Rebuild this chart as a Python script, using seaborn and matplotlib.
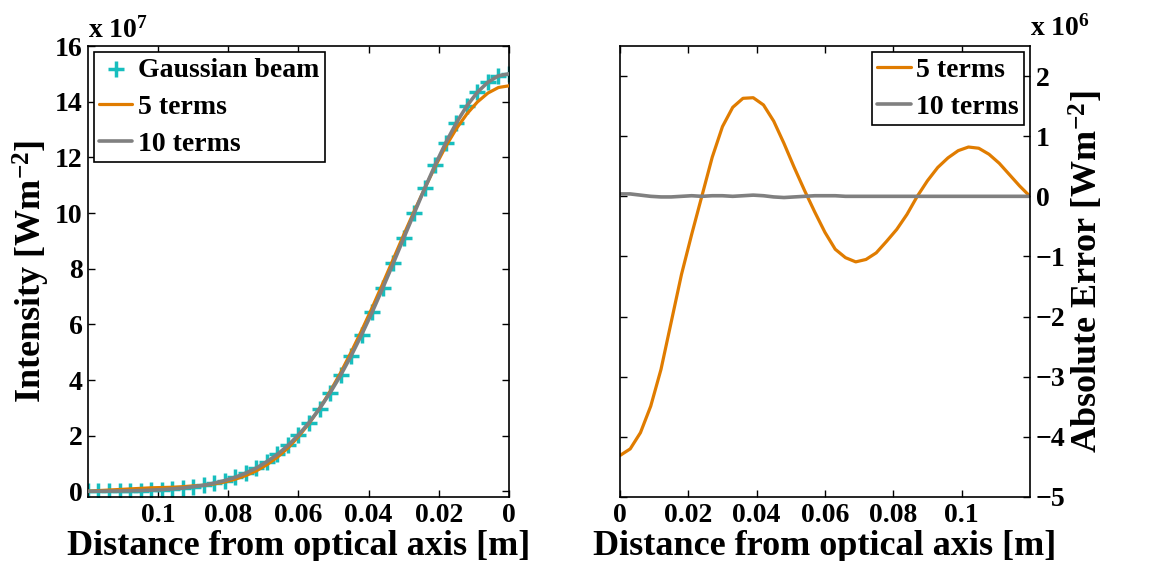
import matplotlib
matplotlib.use("Agg")
import matplotlib.pyplot as plt
import pandas as pd
import seaborn as sns

# distance from optical axis [m]
r = [0.000, 0.003, 0.006, 0.009, 0.012, 0.015, 0.018, 0.021, 0.024, 0.027,
     0.030, 0.033, 0.036, 0.039, 0.042, 0.045, 0.048, 0.051, 0.054, 0.057,
     0.060, 0.063, 0.066, 0.069, 0.072, 0.075, 0.078, 0.081, 0.084, 0.087,
     0.090, 0.093, 0.096, 0.099, 0.102, 0.105, 0.108, 0.111, 0.114, 0.117,
     0.120]

# intensity, units of 1e7 W m^-2
gaussian = [15.00, 14.93, 14.70, 14.34, 13.85, 13.24, 12.53, 11.74, 10.89, 10.00,
            9.10, 8.19, 7.30, 6.44, 5.63, 4.87, 4.17, 3.54, 2.97, 2.47,
            2.03, 1.65, 1.33, 1.07, 0.84, 0.66, 0.51, 0.39, 0.30, 0.22,
            0.17, 0.12, 0.09, 0.065, 0.046, 0.033, 0.023, 0.016, 0.011, 0.008,
            0.005]
terms5 = [14.57, 14.51, 14.31, 13.99, 13.56, 13.03, 12.40, 11.68, 10.89, 10.07,
          9.22, 8.34, 7.46, 6.60, 5.78, 5.00, 4.26, 3.59, 2.98, 2.44,
          1.97, 1.56, 1.23, 0.96, 0.74, 0.57, 0.44, 0.34, 0.27, 0.22,
          0.20, 0.17, 0.15, 0.14, 0.13, 0.11, 0.09, 0.07, 0.05, 0.03,
          0.005]
terms10 = [15.00, 14.93, 14.70, 14.34, 13.85, 13.24, 12.53, 11.74, 10.89, 10.00,
           9.10, 8.19, 7.30, 6.44, 5.63, 4.87, 4.17, 3.54, 2.97, 2.47,
           2.03, 1.65, 1.33, 1.07, 0.84, 0.66, 0.51, 0.39, 0.30, 0.22,
           0.17, 0.12, 0.09, 0.065, 0.046, 0.033, 0.023, 0.016, 0.011, 0.008,
           0.005]

# absolute error, units of 1e6 W m^-2
err5 = [-4.31, -4.20, -3.93, -3.49, -2.88, -2.09, -1.30, -0.63, 0.01, 0.65,
        1.16, 1.48, 1.63, 1.64, 1.52, 1.25, 0.88, 0.48, 0.10, -0.26,
        -0.60, -0.88, -1.02, -1.09, -1.05, -0.94, -0.75, -0.55, -0.30, 0.00,
        0.26, 0.48, 0.64, 0.76, 0.82, 0.80, 0.70, 0.55, 0.36, 0.17,
        0.00]
err10 = [0.04, 0.04, 0.02, 0.00, -0.01, -0.01, 0.00, 0.01, 0.00, 0.01,
         0.01, 0.00, 0.01, 0.02, 0.01, -0.01, -0.02, -0.01, 0.00, 0.01,
         0.01, 0.01, 0.00, 0.00, 0.00, 0.00, 0.00, 0.00, 0.00, 0.00,
         0.00, 0.00, 0.00, 0.00, 0.00, 0.00, 0.00, 0.00, 0.00, 0.00,
         0.00]

left_xticks = [0.1, 0.08, 0.06, 0.04, 0.02, 0]
left_xlabels = ["0.1", "0.08", "0.06", "0.04", "0.02", "0"]
left_yticks = [0, 2, 4, 6, 8, 10, 12, 14, 16]
right_xticks = [0, 0.02, 0.04, 0.06, 0.08, 0.1]
right_xlabels = ["0", "0.02", "0.04", "0.06", "0.08", "0.1"]
right_yticks = [2, 1, 0, -1, -2, -3, -4, -5]

cyan = "#17BEBE"
orange = "#E07C00"
gray = "#808080"

sns.set_style("ticks")
plt.rcParams["font.family"] = ["Liberation Serif", "DejaVu Serif"]
plt.rcParams["font.weight"] = "bold"
plt.rcParams["mathtext.fontset"] = "custom"
plt.rcParams["mathtext.rm"] = "Liberation Serif:bold"
plt.rcParams["mathtext.bf"] = "Liberation Serif:bold"
plt.rcParams["mathtext.default"] = "bf"
plt.rcParams["axes.unicode_minus"] = True
for key in ("text.color", "axes.labelcolor", "xtick.color", "ytick.color",
            "axes.edgecolor"):
    plt.rcParams[key] = "black"

df = pd.DataFrame({"r": r, "gauss": gaussian, "t5": terms5, "t10": terms10,
                   "e5": err5, "e10": err10})

fig = plt.figure(figsize=(11.56, 5.61), dpi=100)
ax1 = fig.add_axes([0.0761, 0.1141, 0.3642, 0.8039])
ax2 = fig.add_axes([0.5363, 0.1141, 0.3547, 0.8039])

tick_fs = 20
label_fs = 26
leg_fs = 20

# left panel
sns.scatterplot(data=df, x="r", y="gauss", ax=ax1, marker="+", s=120,
                linewidth=2.5, color=cyan, label="Gaussian beam", zorder=2)
sns.lineplot(data=df, x="r", y="t5", ax=ax1, color=orange, lw=2.3,
             label="5 terms", zorder=3)
sns.lineplot(data=df, x="r", y="t10", ax=ax1, color=gray, lw=2.6,
             label="10 terms", zorder=4)
ax1.set_xlim(0.12, 0)
ax1.set_ylim(-0.2, 16)
ax1.set_xticks(left_xticks)
ax1.set_xticklabels(left_xlabels)
ax1.set_yticks(left_yticks)
ax1.set_xlabel("Distance from optical axis [m]", fontsize=label_fs,
               fontweight="bold", labelpad=2)
ax1.set_ylabel("Intensity [Wm$^{-2}$]", fontsize=label_fs,
               fontweight="bold", labelpad=2)
ax1.text(0.0, 1.005, "x 10$^{7}$", transform=ax1.transAxes, fontsize=tick_fs,
         fontweight="bold", ha="left", va="bottom")
leg1 = ax1.legend(loc="upper left", fontsize=leg_fs, frameon=True, fancybox=False,
                  borderaxespad=0.2, handlelength=1.2, handletextpad=0.2,
                  borderpad=0.2, labelspacing=0.42)

# right panel
sns.lineplot(data=df, x="r", y="e5", ax=ax2, color=orange, lw=2.3,
             label="5 terms")
sns.lineplot(data=df, x="r", y="e10", ax=ax2, color=gray, lw=2.6,
             label="10 terms")
ax2.set_xlim(0, 0.12)
ax2.set_ylim(-5, 2.5)
ax2.set_xticks(right_xticks)
ax2.set_xticklabels(right_xlabels)
ax2.set_yticks(right_yticks)
ax2.yaxis.tick_right()
ax2.yaxis.set_label_position("right")
ax2.set_xlabel("Distance from optical axis [m]", fontsize=label_fs,
               fontweight="bold", labelpad=2)
ax2.set_ylabel("Absolute Error [Wm$^{-2}$]", fontsize=label_fs,
               fontweight="bold", labelpad=2)
ax2.text(1.0, 1.01, "x 10$^{6}$", transform=ax2.transAxes, fontsize=tick_fs,
         fontweight="bold", ha="left", va="bottom")
leg2 = ax2.legend(loc="upper right", fontsize=leg_fs, frameon=True, fancybox=False,
                  borderaxespad=0.2, handlelength=1.2, handletextpad=0.2,
                  borderpad=0.2, labelspacing=0.42)

for ax in (ax1, ax2):
    ax.tick_params(direction="in", top=True, bottom=True, left=True, right=True,
                   length=5, width=1, labelsize=tick_fs, pad=4)
    for lbl in ax.get_xticklabels() + ax.get_yticklabels():
        lbl.set_fontweight("bold")
    for sp in ax.spines.values():
        sp.set_visible(True)
        sp.set_linewidth(1.2)
ax2.tick_params(labelleft=False, labelright=True)

for leg in (leg1, leg2):
    fr = leg.get_frame()
    fr.set_edgecolor("black")
    fr.set_linewidth(1.2)
    fr.set_alpha(1)
    for t in leg.get_texts():
        t.set_fontweight("bold")

fig.savefig("out.png", dpi=100)
